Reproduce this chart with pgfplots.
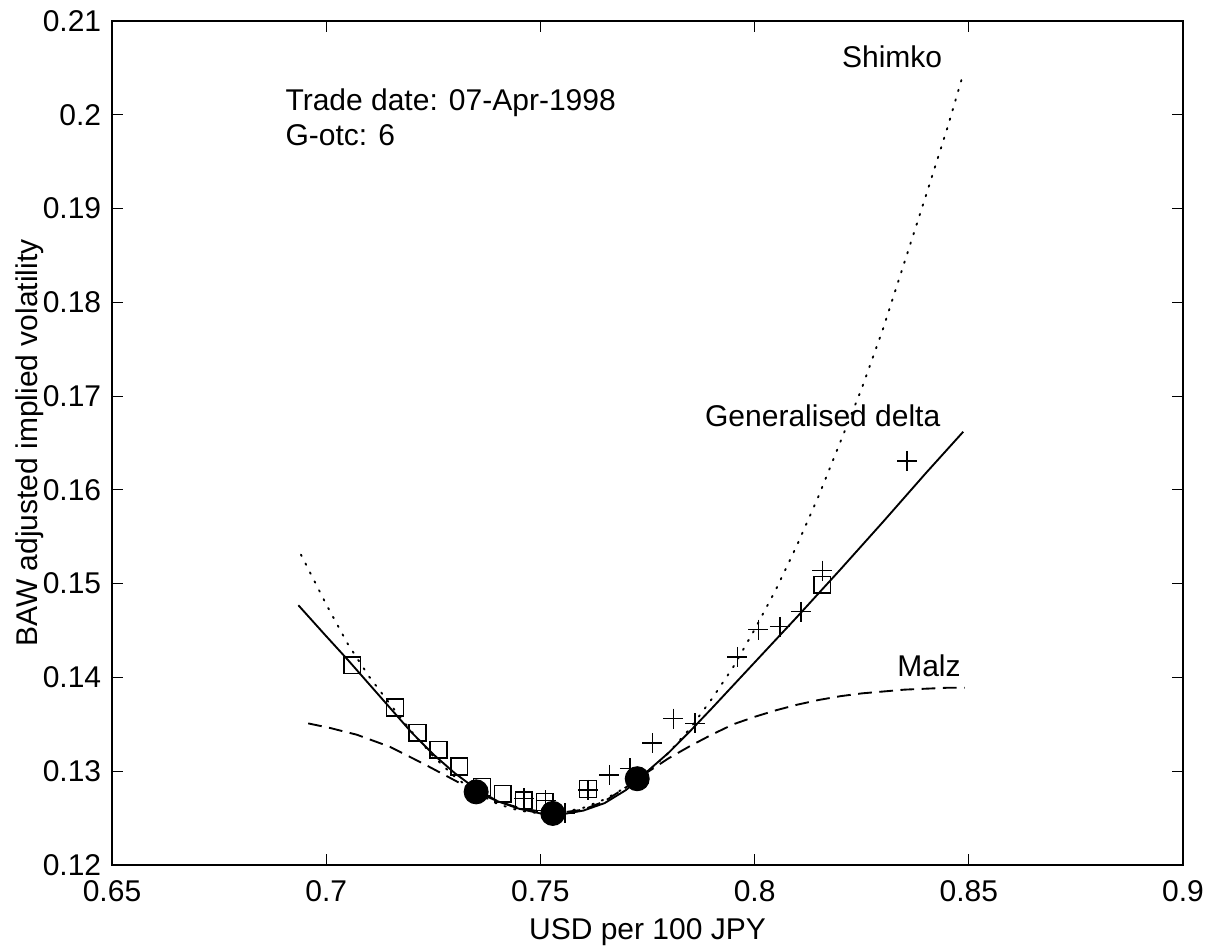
\documentclass[border=0pt]{standalone}
\usepackage{fontspec}
\setmainfont{Liberation Sans}
\usepackage{pgfplots}
\pgfplotsset{compat=1.18}
\begin{document}
\begin{tikzpicture}[font=\fontsize{12}{14}\selectfont]
\useasboundingbox (-44.8pt,-34.4pt) rectangle (442.4pt,346pt);
\begin{axis}[
    scale only axis,
    width=428.4pt, height=337.6pt,
    at={(0,0)}, anchor=south west,
    xmin=0.65, xmax=0.9,
    ymin=0.12, ymax=0.21,
    xtick={0.65,0.7,0.75,0.8,0.85,0.9},
    ytick={0.12,0.13,0.14,0.15,0.16,0.17,0.18,0.19,0.2,0.21},
    scaled ticks=false,
    /pgf/number format/assume math mode=true,
    /pgf/number format/fixed,
    /pgf/number format/precision=2,
    tick align=inside, tick pos=both,
    major tick length=4.3pt,
    tick style={line width=0.4pt, black},
    axis line style={line width=0.5pt},
    xticklabel style={yshift=-2.7pt},
    yticklabel style={xshift=-0.8pt},
    xlabel={USD per 100 JPY},
    ylabel={BAW adjusted implied volatility},
    xlabel style={at={(axis description cs:0.5,0)}, anchor=base, yshift=-29.6pt},
    ylabel style={at={(axis description cs:-0.0691,0.5)}, anchor=base},
  ]

  % Shimko
  \addplot [black, line width=0.75pt, dash pattern=on 0.6pt off 3.4pt, line cap=round]
    coordinates {(0.6941,0.1531) (0.700,0.1478) (0.705,0.1436) (0.710,0.1401)
      (0.715,0.1371) (0.720,0.1342) (0.725,0.1316) (0.730,0.1294) (0.735,0.1277)
      (0.740,0.1265) (0.745,0.1258) (0.750,0.1255) (0.755,0.1256) (0.760,0.1261)
      (0.765,0.1270) (0.770,0.1283) (0.775,0.1299) (0.780,0.1320) (0.785,0.1346)
      (0.790,0.1377) (0.795,0.1411) (0.800,0.1451) (0.805,0.1494) (0.810,0.1542)
      (0.815,0.1594) (0.820,0.1651) (0.825,0.1708) (0.830,0.1772) (0.835,0.1843)
      (0.840,0.1914) (0.845,0.1986) (0.8486,0.2042)};

  % Malz
  \addplot [black, line width=0.75pt, dash pattern=on 5.5pt off 3pt]
    coordinates {(0.6958,0.1351) (0.7010,0.1346) (0.7071,0.1339) (0.7149,0.1326)
      (0.7227,0.1308) (0.7297,0.1291) (0.735,0.1278) (0.740,0.1268) (0.745,0.1261)
      (0.750,0.1257) (0.755,0.1256) (0.760,0.1259) (0.765,0.1268) (0.770,0.1283)
      (0.775,0.1299) (0.780,0.1314) (0.785,0.1327) (0.790,0.1339) (0.795,0.1350)
      (0.800,0.1358) (0.805,0.1365) (0.810,0.1371) (0.815,0.1376) (0.820,0.1380)
      (0.825,0.1383) (0.830,0.1385) (0.835,0.1387) (0.840,0.1388) (0.845,0.1389)
      (0.849,0.1389)};

  % Generalised delta
  \addplot [black, line width=0.75pt]
    coordinates {(0.6935,0.1477) (0.700,0.1444) (0.705,0.1419) (0.710,0.1393)
      (0.715,0.1367) (0.720,0.1341) (0.725,0.1318) (0.730,0.1298) (0.735,0.1281)
      (0.740,0.1268) (0.745,0.1260) (0.750,0.1255) (0.755,0.1254) (0.760,0.1258)
      (0.765,0.1266) (0.770,0.1280) (0.775,0.1300) (0.780,0.1320) (0.785,0.1343)
      (0.790,0.1367) (0.800,0.1416) (0.810,0.1465) (0.820,0.1515) (0.830,0.1566)
      (0.840,0.1618) (0.8487,0.1662)};

  % squares
  \addplot [only marks, mark=square, mark size=3.35pt, mark options={black, line width=0.55pt}]
    coordinates {(0.7061,0.1413) (0.7161,0.1368) (0.7213,0.1341) (0.7262,0.1323)
      (0.7311,0.1305) (0.7364,0.1283) (0.7412,0.1276) (0.7461,0.1269)
      (0.7510,0.1267) (0.7611,0.1281) (0.8158,0.1499)};

  % crosses
  \addplot [only marks, mark=+, mark size=4pt, mark options={black, line width=0.55pt}]
    coordinates {(0.7462,0.1271) (0.7512,0.1269) (0.7557,0.1255) (0.7611,0.1280)
      (0.7661,0.1296) (0.7709,0.1303) (0.7761,0.1330) (0.7810,0.1356)
      (0.7861,0.1351) (0.7960,0.1422) (0.8009,0.1451) (0.8059,0.1454)
      (0.8108,0.1470) (0.8158,0.1514) (0.8356,0.1631)};

  % calibration points
  \addplot [only marks, mark=*, mark size=4.8pt, mark options={black, fill=black}]
    coordinates {(0.7350,0.1278) (0.7529,0.1255) (0.7726,0.1292)};

  \node [anchor=base, inner sep=0pt] at (axis cs:0.8321,0.2050) {Shimko};
  \node [anchor=base, inner sep=0pt] at (axis cs:0.8159,0.1668) {Generalised delta};
  \node [anchor=base, inner sep=0pt] at (axis cs:0.8407,0.1401) {Malz};
  \node [anchor=base west, inner sep=0pt] at (axis cs:0.6904,0.2005) {Trade date: 07-Apr-1998};
  \node [anchor=base west, inner sep=0pt] at (axis cs:0.6904,0.1967) {G-otc: 6};

\end{axis}
\end{tikzpicture}
\end{document}
